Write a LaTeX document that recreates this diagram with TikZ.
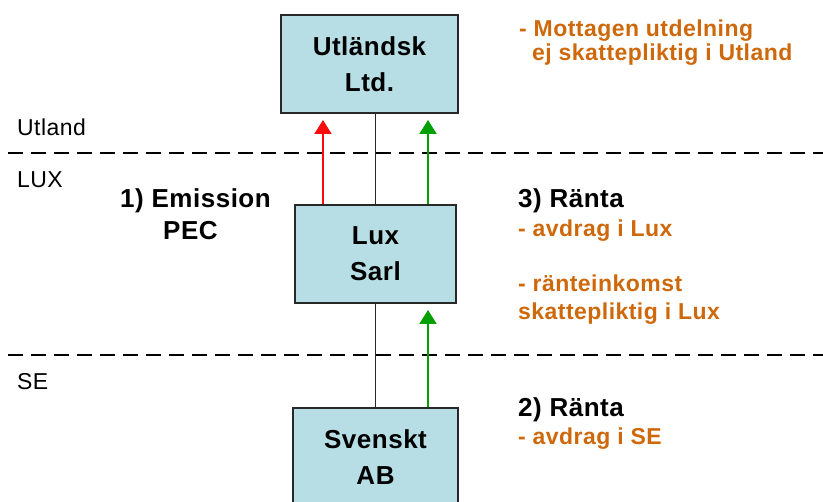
\documentclass[tikz,border=0pt]{standalone}
\usepackage{fontspec}
\setmainfont{Liberation Sans}[LetterSpace=2]
\usetikzlibrary{arrows.meta}
\definecolor{boxfill}{RGB}{183,222,228}
\definecolor{boxline}{RGB}{40,40,40}
\definecolor{orng}{RGB}{206,104,10}
\definecolor{grn}{RGB}{0,160,0}
\definecolor{rd}{RGB}{255,10,10}
\tikzset{
  entity/.style={draw=boxline, line width=1.6pt, fill=boxfill, align=center,
    font=\fontsize{26}{36}\selectfont\bfseries, inner sep=0pt},
  link/.style={draw=boxline, line width=1.8pt},
  border/.style={line width=2pt, dash pattern=on 15pt off 8pt},
  flow/.style={line width=2pt, -{Triangle[width=17pt,length=14pt]}},
  region/.style={anchor=base west, inner sep=0pt, font=\fontsize{23}{26}\selectfont},
  steplabel/.style={anchor=base west, inner sep=0pt, font=\fontsize{26}{30}\selectfont\bfseries},
  note/.style={anchor=base west, inner sep=0pt, text=orng, font=\fontsize{23}{26}\selectfont\bfseries}
}
\begin{document}
\begin{tikzpicture}[x=1pt,y=-1pt]
\useasboundingbox (0,0) rectangle (823,502);
\clip (0,0) rectangle (823,502);
% dashed borders
\coordinate (b1l) at (8,153); \coordinate (b1r) at (823,153);
\coordinate (b2l) at (8,355); \coordinate (b2r) at (823,355);
\draw[border] (b1l) -- (b1r);
\draw[border] (b2l) -- (b2r);
% boxes
\node[entity, minimum width=177pt, minimum height=98pt] (utl) at (369.5,64) {Utländsk\\Ltd.};
\node[entity, minimum width=161pt, minimum height=98pt] (lux) at (375.5,254) {Lux\\Sarl};
\node[entity, minimum width=165pt, minimum height=98pt, anchor=north] (se) at (375.5,407) {Svenskt\\AB};
% connectors
\draw[link] (utl.south -| lux.north) -- (lux.north);
\draw[link] (lux.south) -- (se.north -| lux.south);
% arrows
\coordinate (redtip) at (323,120);
\coordinate (greentip) at (428,120);
\coordinate (greentip2) at (428,310);
\draw[flow, draw=rd, fill=rd] (lux.north -| redtip) -- (redtip);
\draw[flow, draw=grn, fill=grn] (lux.north -| greentip) -- (greentip);
\draw[flow, draw=grn, fill=grn] (se.north -| greentip2) -- (greentip2);
% region labels
\node[region] (lutl) at (17,136) {Utland};
\node[region] (llux) at (17,188) {LUX};
\node[region] (lse) at (17,390) {SE};
% step labels
\node[steplabel] (s1) at (120,208) {1) Emission};
\node[steplabel] (s1b) at (163,240) {PEC};
\node[steplabel] (s3) at (518,208) {3) Ränta};
\node[steplabel] (s2) at (518,417) {2) Ränta};
% notes
\node[note] (n1) at (519,37) {- Mottagen utdelning};
\node[note] (n2) at (532,61) {ej skattepliktig i Utland};
\node[note] (n3) at (518,237) {- avdrag i Lux};
\node[note] (n4) at (518,292) {- ränteinkomst};
\node[note] (n5) at (518,320) {skattepliktig i Lux};
\node[note] (n6) at (518,445) {- avdrag i SE};
\end{tikzpicture}
\end{document}
